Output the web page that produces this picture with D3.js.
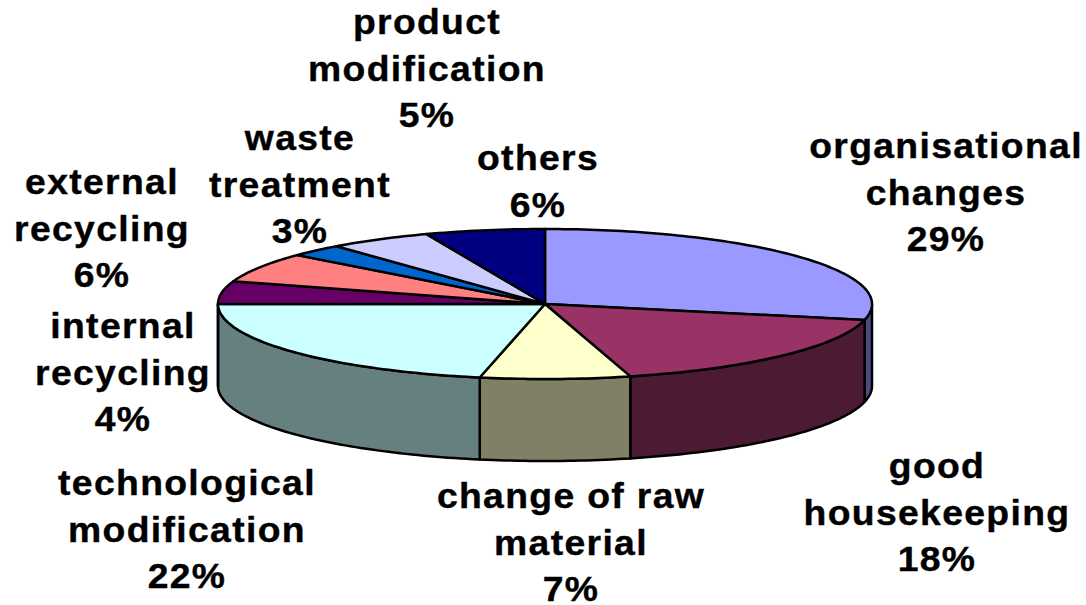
<!DOCTYPE html>
<html><head><meta charset="utf-8">
<script src="https://cdn.jsdelivr.net/npm/d3@7"></script>
<style>html,body{margin:0;padding:0;background:#fff}svg{display:block}</style>
</head><body><svg id="c" width="1086" height="605"></svg>
<script>
const categories = ["organisational changes","good housekeeping","change of raw material","technological modification","internal recycling","external recycling","waste treatment","product modification","others"];
const shownLabels = ["29%","18%","7%","22%","4%","6%","3%","5%","6%"];
const sliceShares = [28.4,17.4,7.4,21.8,4.9,6.4,2.7,5.1,5.9];
const topColors = ["#9999FF","#993366","#FFFFCC","#CCFFFF","#660066","#FF8080","#0066CC","#CCCCFF","#000080"];
const sideColors = ["#4C4C80","#4D1A33","#808066","#668080","#330033","#804040","#003366","#666680","#000040"];
const labelLines = [["organisational","changes","29%"],["good","housekeeping","18%"],["change of raw","material","7%"],["technological","modification","22%"],["internal","recycling","4%"],["external","recycling","6%"],["waste","treatment","3%"],["product","modification","5%"],["others","6%"]];
const labelAnchors = [[946,158],[937,478],[571,508],[187,495],[123,338],[102,194],[300,150],[427,34],[538,170]];

const svg = d3.select("#c");
const x = d3.scaleLinear().domain([-1,1]).range([218,872]);
const y = d3.scaleLinear().domain([-1,1]).range([229,379]);
const depth = 82;
const pie = d3.pie().sort(null).value((d,i)=>sliceShares[i]);
const arcs = pie(categories);
const line = d3.line().x(d=>d[0]).y(d=>d[1]);
const pt = (t,dy=0)=>[x(Math.sin(t)), y(-Math.cos(t))+dy];
const sample=(a,b)=>{const n=Math.max(2,Math.ceil(Math.abs(b-a)/0.02));return d3.range(n+1).map(i=>a+(b-a)*i/n);};
const wallArcs = arcs.map((a,i)=>({i,a0:Math.max(a.startAngle,Math.PI/2),a1:Math.min(a.endAngle,Math.PI*1.5)})).filter(d=>d.a1>d.a0);
svg.append("g").selectAll("path").data(wallArcs).join("path")
  .attr("d",d=>{
    const top=sample(d.a0,d.a1).map(t=>pt(t));
    const bot=sample(d.a1,d.a0).map(t=>pt(t,depth));
    return line(top.concat(bot))+"Z";
  })
  .attr("fill",d=>sideColors[d.i]).attr("stroke","#000").attr("stroke-width",2.5).attr("stroke-linejoin","round");
svg.append("g").selectAll("path").data(arcs).join("path")
  .attr("d",a=>line([[x(0),y(0)]].concat(sample(a.startAngle,a.endAngle).map(t=>pt(t))))+"Z")
  .attr("fill",(a,i)=>topColors[i]).attr("stroke","#000").attr("stroke-width",2.5).attr("stroke-linejoin","round");
const lh=46.5;
const lab=svg.append("g").attr("font-family","'Liberation Sans',Arial,sans-serif").attr("font-weight","bold").attr("font-size",35.5).attr("fill","#000").attr("text-anchor","middle");
labelLines.forEach((ls,i)=>{
  ls.forEach((s,j)=>{
    lab.append("text")
      .attr("transform",`translate(${labelAnchors[i][0]},${labelAnchors[i][1]+j*lh}) scale(1.05,1)`)
      .style("letter-spacing","1.3px").attr("stroke","#000").attr("stroke-width",0.4).text(s);
  });
});
</script></body></html>
